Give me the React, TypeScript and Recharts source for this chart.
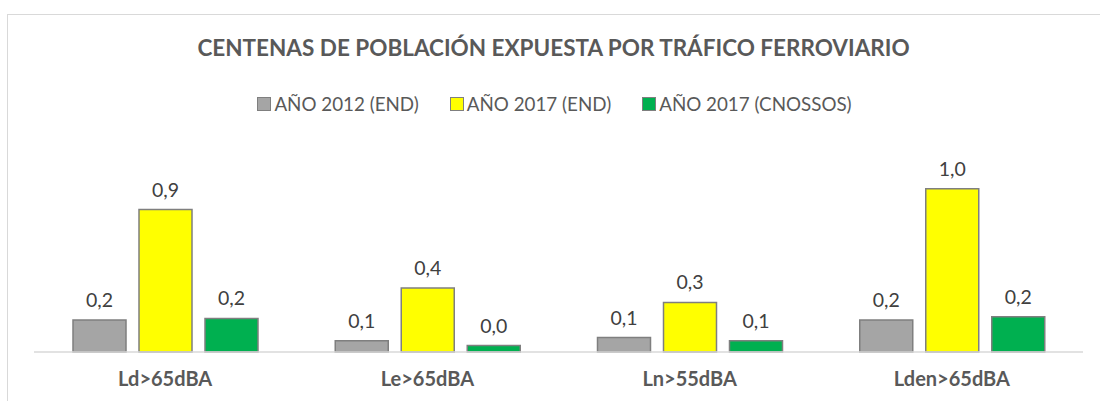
import React from 'react';
import { BarChart, Bar, XAxis, YAxis, LabelList } from 'recharts';

const categories = ['Ld>65dBA', 'Le>65dBA', 'Ln>55dBA', 'Lden>65dBA'];
const seriesNames = ['AÑO 2012 (END)', 'AÑO 2017 (END)', 'AÑO 2017 (CNOSSOS)'];
const ano2012End = [0.2, 0.07, 0.09, 0.2];
const ano2017End = [0.89, 0.4, 0.31, 1.02];
const ano2017Cnossos = [0.21, 0.04, 0.07, 0.22];

const colors = ['#a5a5a5', '#ffff00', '#00b050'];
const textColor = '#595959';
const font = 'Lato, "Liberation Sans", sans-serif';

const data = categories.map((name, i) => ({
  name,
  s0: ano2012End[i],
  s1: ano2017End[i],
  s2: ano2017Cnossos[i],
}));

const fmt = (v: number) => v.toFixed(1).replace('.', ',');

export default function App() {
  return (
    <div style={{ position: 'fixed', left: 0, top: 0, width: 1100, height: 401, overflow: 'hidden', background: '#fff', fontFamily: font }}>
      <div style={{ position: 'absolute', left: 7, top: 14, width: 1110, height: 400, borderLeft: '1px solid #d9d9d9', borderTop: '1px solid #d9d9d9' }} />
      <div style={{ position: 'absolute', left: 0, top: 34, width: 1107, textAlign: 'center', fontSize: 22.5, fontWeight: 700, color: textColor }}>
        CENTENAS DE POBLACIÓN EXPUESTA POR TRÁFICO FERROVIARIO
      </div>
      <div style={{ position: 'absolute', left: 0, top: 92, width: 1109, display: 'flex', justifyContent: 'center', fontSize: 18.8, color: textColor }}>
        {seriesNames.map((n, i) => (
          <div key={n} style={{ display: 'flex', alignItems: 'center', marginRight: i < 2 ? 31 : 0 }}>
            <span style={{ display: 'inline-block', width: 12, height: 12, background: colors[i], border: '1px solid #7f7f7f', marginRight: 3 }} />
            <span>{n}</span>
          </div>
        ))}
      </div>
      <div style={{ position: 'absolute', left: 0, top: 0 }}>
        <BarChart width={1100} height={401} data={data} margin={{ top: 160, right: 17, left: 34, bottom: 0 }} barGap={13}>
          <XAxis
            dataKey="name"
            height={49}
            axisLine={{ stroke: '#d9d9d9', strokeWidth: 1.5 }}
            tickLine={false}
            tickMargin={14}
            tick={{ fill: textColor, fontSize: 20, fontWeight: 700, fontFamily: font }}
          />
          <YAxis hide domain={[0, 1.2]} />
          {['s0', 's1', 's2'].map((k, i) => (
            <Bar key={k} dataKey={k} name={seriesNames[i]} fill={colors[i]} stroke="#7f7f7f" strokeWidth={1.5} barSize={53} isAnimationActive={false}>
              <LabelList dataKey={k} position="top" offset={13} formatter={(v: number) => fmt(v)} style={{ fill: '#404040', fontSize: 19.5, fontFamily: font }} />
            </Bar>
          ))}
        </BarChart>
      </div>
    </div>
  );
}
